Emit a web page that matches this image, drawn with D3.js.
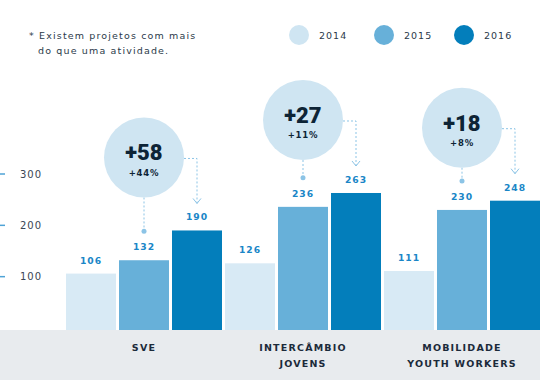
<!DOCTYPE html>
<html><head><meta charset="utf-8">
<script src="https://cdn.jsdelivr.net/npm/d3@7"></script>
<style>
body{margin:0;background:#fff;}
svg{display:block;}
text{font-family:"DejaVu Sans",sans-serif;}
</style></head>
<body>
<svg id="c" width="540" height="380"></svg>
<script>
const categories = [["SVE"], ["INTERCÂMBIO","JOVENS"], ["MOBILIDADE","YOUTH WORKERS"]];
const years = ["2014","2015","2016"];
const v2014 = [106,126,111];
const v2015 = [132,236,230];
const v2016 = [190,263,248];
const diffLabels = ["+58","+27","+18"];
const pctLabels = ["+44%","+11%","+8%"];
const yTicks = [100,200,300];
const note = ["* Existem projetos com mais","do que uma atividade."];

const colors = ["#d8eaf5","#67b0d9","#037ebb"];
const svg = d3.select("#c");
const W = 540, H = 380, base = 330;

svg.append("rect").attr("x",0).attr("y",base).attr("width",W).attr("height",H-base).attr("fill","#e8ebee");

const x0 = d3.scaleBand().domain(d3.range(categories.length)).range([66,543]).paddingInner(0);
const x1 = d3.scaleBand().domain(years).range([0, x0.bandwidth()-3]).paddingInner(3/53);
const y = d3.scaleLinear().domain([0,300]).range([328,174]);

const ax = svg.append("g");
ax.selectAll("line").data(yTicks).join("line")
  .attr("x1",0).attr("x2",5).attr("y1",d=>y(d)).attr("y2",d=>y(d))
  .attr("stroke","#4fa3d6").attr("stroke-width",1.5);
ax.selectAll("text").data(yTicks).join("text")
  .attr("x",20).attr("y",d=>y(d)+3.8).text(d=>d)
  .attr("font-size",10).attr("letter-spacing",1).attr("fill","#3a4654");

const series = [v2014,v2015,v2016];
const g = svg.append("g");
categories.forEach((cat,i)=>{
  const gx = x0(i);
  years.forEach((yr,j)=>{
    const v = series[j][i];
    const bx = gx + x1(yr);
    g.append("rect").attr("x",bx).attr("y",y(v)).attr("width",x1.bandwidth()).attr("height",base-y(v)).attr("fill",colors[j]);
    g.append("text").attr("x",bx+x1.bandwidth()/2).attr("y",y(v)-10).attr("text-anchor","middle")
      .attr("font-size",9.2).attr("font-weight","bold").attr("letter-spacing",1).attr("fill","#1a86c7").text(v);
  });
  const cx = gx + x1("2015") + x1.bandwidth()/2;
  cat.forEach((line,k)=>{
    g.append("text").attr("x",cx).attr("y",351+16*k).attr("text-anchor","middle")
      .attr("font-size",9.5).attr("font-weight","bold").attr("letter-spacing",1.2).attr("fill","#1b2a3a").text(line);
  });
  const r = 40;
  const cy = y(v2016[i]) - 73;
  const dotY = y(v2015[i]) - 29;
  const x16 = gx + x1("2016") + x1.bandwidth()/2;
  const tipY = y(v2016[i]) - 27;
  const dash = "2,2", lc = "#8cc4e6";
  g.append("line").attr("x1",cx).attr("x2",cx).attr("y1",cy+r).attr("y2",dotY)
    .attr("stroke",lc).attr("stroke-dasharray",dash).attr("stroke-width",1);
  g.append("circle").attr("cx",cx).attr("cy",dotY).attr("r",2.5).attr("fill","#8cc4e6");
  g.append("path").attr("d",`M${cx+r},${cy+1}H${x16}V${tipY}`).attr("fill","none")
    .attr("stroke",lc).attr("stroke-dasharray",dash).attr("stroke-width",1);
  g.append("path").attr("d",`M${x16-4},${tipY-5}L${x16},${tipY}L${x16+4},${tipY-5}`).attr("fill","none")
    .attr("stroke",lc).attr("stroke-width",1);
  g.append("circle").attr("cx",cx).attr("cy",cy).attr("r",r).attr("fill","#cfe5f2");
  g.append("text").attr("x",cx).attr("y",cy+3).attr("text-anchor","middle")
    .style("font-family","Roboto").attr("font-size",22).attr("font-weight","900").attr("fill","#0d2436").text(diffLabels[i]);
  g.append("text").attr("x",cx).attr("y",cy+18.5).attr("text-anchor","middle")
    .attr("font-size",8.5).attr("font-weight","bold").attr("letter-spacing",0.8).attr("fill","#0d2436").text(pctLabels[i]);
});

const legX = [299,384,464];
const lg = svg.append("g");
years.forEach((yr,j)=>{
  lg.append("circle").attr("cx",legX[j]).attr("cy",35).attr("r",10).attr("fill",j===0?"#cfe5f2":colors[j]);
  lg.append("text").attr("x",legX[j]+20).attr("y",38.5).attr("font-size",9.5).attr("letter-spacing",1).attr("fill","#2b3a4a").text(yr);
});

svg.append("text").attr("x",29).attr("y",39).attr("font-size",9.5).attr("letter-spacing",1.15).attr("fill","#2b3a4a").text(note[0]);
svg.append("text").attr("x",38).attr("y",54).attr("font-size",9.5).attr("letter-spacing",1.15).attr("fill","#2b3a4a").text(note[1]);
</script>
</body></html>
